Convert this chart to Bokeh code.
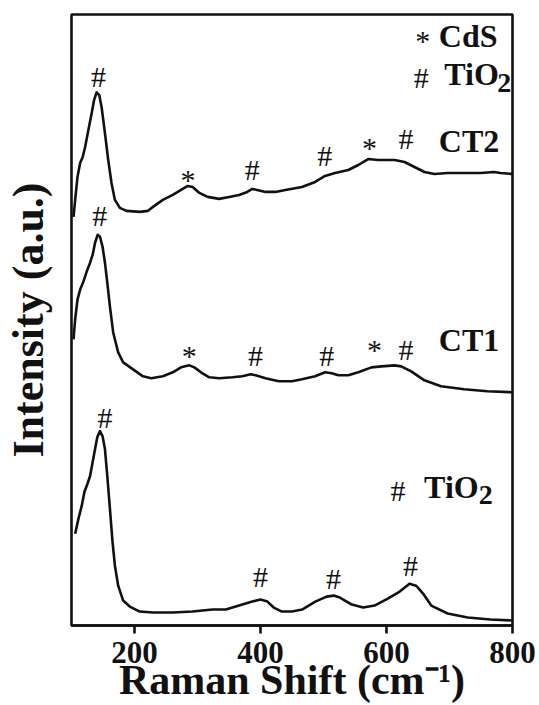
from bokeh.plotting import figure
from bokeh.models import Range1d, FixedTicker, Label, ColumnDataSource
from bokeh.core.properties import value
from bokeh.embed import file_html
from bokeh.resources import INLINE

# ---- data (Raman shift in cm^-1, intensity in a.u. with stacking offsets) ----
tio2_shift = [105.8, 111, 116.2, 120.5, 125.2, 129.5, 133.6, 137.4, 141, 145.2, 149.3, 153.1,
              156.8, 161, 165.1, 168.9, 174.1, 182, 192.5, 208.3, 229, 261, 292, 324, 345,
              366, 387, 400, 411, 421, 434, 450, 466, 487, 505, 516, 526, 545, 563, 581,
              602, 621, 636.5, 647, 658, 671, 697, 729, 765, 800]
tio2_int = [92, 107, 120, 134, 142, 150, 164, 177, 189, 195, 190, 177,
            150, 117, 84, 60, 40, 25, 19, 14, 13, 13, 14, 16, 16,
            20, 24, 26, 24, 18, 14, 14, 16, 24, 29, 30, 28, 21, 18, 20,
            27, 34, 42, 40, 32, 20, 12, 8, 6, 5]

ct1_shift = [103.2, 105.8, 109.5, 113.7, 118.9, 124.1, 129.5, 133.6, 137.4, 141.5, 145.2,
             149.3, 153.1, 156.8, 161, 166.2, 174.1, 182, 197.7, 213.5, 226.6, 245, 260.8,
             273.9, 287.1, 295, 305.4, 318.7, 334.4, 355.4, 371.2, 384.3, 392.2, 407.9,
             429, 450, 465.8, 486.7, 502.5, 513, 523.6, 539.4, 555.2, 576.1, 591.9, 612.9,
             623.4, 639.2, 660.2, 686.5, 723.2, 760.1, 799.5]
ct1_int = [287, 307, 327, 337, 345, 355, 364, 372, 384, 392, 390,
           380, 364, 344, 320, 294, 274, 264, 257, 250, 248, 250, 254,
           259, 261, 259, 254, 249, 248, 249, 250, 252, 251, 248,
           245, 245, 247, 250, 254, 253, 251, 251, 254, 259, 260, 261,
           260, 255, 246, 240, 237, 235, 234]

ct2_shift = [103.2, 105.8, 109.5, 113.7, 117.8, 121.6, 126.8, 132, 135.8, 139.9, 144.1,
             147.8, 153.1, 158.3, 163.5, 168.9, 176.8, 187.2, 208.3, 221.4, 229.3, 245,
             260.8, 273.9, 284.5, 292.3, 303, 316, 334.4, 350.2, 366, 379, 386.9, 394.8,
             407.9, 423.7, 439.5, 465.8, 486.7, 502.5, 518.3, 539.4, 555.2, 571, 586.7,
             612.9, 628.7, 644.4, 660.2, 676, 697, 728.6, 749.5, 770.5, 781, 799.5]
ct2_int = [410, 427, 450, 464, 470, 480, 497, 514, 527, 535, 532,
           520, 494, 467, 444, 427, 419, 416, 415, 416, 420, 427,
           432, 437, 441, 440, 434, 430, 428, 430, 432, 435, 438, 437,
           435, 435, 437, 440, 445, 451, 454, 457, 462, 468, 467,
           467, 465, 460, 455, 453, 454, 454, 454, 455, 454, 453]

x_ticks = [200, 400, 600, 800]

# peak marks: position (shift), level (a.u., centre of the mark), symbol
tio2_mark_x = [153, 400, 516, 638]
tio2_mark_y = [208, 48, 46, 59]
tio2_mark_s = ["#", "#", "#", "#"]
ct1_mark_x = [145, 287, 392, 505, 581, 631]
ct1_mark_y = [410, 274, 270, 270, 280, 276]
ct1_mark_s = ["#", "*", "#", "#", "*", "#"]
ct2_mark_x = [143, 285, 387, 502, 573, 631]
ct2_mark_y = [550, 450, 456, 470, 482, 487]
ct2_mark_s = ["#", "*", "#", "#", "*", "#"]

# ---- styling ----
SERIF = "Liberation Serif"
INK = "#111111"
LW = 2.6
sym_drop = {"#": 10, "*": 14}   # centre-to-baseline distance of the glyph (px)


def fix(size):
    # baseline correction measured on the rendered svg text
    return 0.3375 * size + 1


p = figure(width=539, height=705, output_backend="svg", toolbar_location=None,
           x_range=Range1d(100, 800), y_range=Range1d(0, 613),
           min_border_left=68, min_border_right=27, min_border_top=14,
           min_border_bottom=78)
p.background_fill_color = "white"
p.border_fill_color = "white"
p.outline_line_color = INK
p.outline_line_width = LW
p.grid.visible = False

ax = p.xaxis[0]
ax.ticker = FixedTicker(ticks=x_ticks)
ax.axis_line_width = LW
ax.axis_line_color = INK
ax.major_tick_in = 0
ax.major_tick_out = 8
ax.major_tick_line_width = LW
ax.major_tick_line_color = INK
ax.minor_tick_line_color = None
ax.major_label_text_font = SERIF
ax.major_label_text_font_style = "bold"
ax.major_label_text_font_size = "31px"
ax.major_label_text_color = INK
ax.major_label_standoff = 8
ax.axis_label = "Raman Shift (cm\u207b\u00b9)"
ax.axis_label_text_font = SERIF
ax.axis_label_text_font_style = "bold"
ax.axis_label_text_font_size = "42px"
ax.axis_label_text_color = INK
ax.axis_label_standoff = -9

ay = p.yaxis[0]
ay.ticker = FixedTicker(ticks=[])
ay.axis_line_color = None
ay.major_tick_line_color = None
ay.minor_tick_line_color = None
ay.major_tick_out = 0
ay.major_tick_in = 0
ay.major_label_standoff = 0
ay.axis_label = "Intensity (a.u.)"
ay.axis_label_text_font = SERIF
ay.axis_label_text_font_style = "bold"
ay.axis_label_text_font_size = "44px"
ay.axis_label_text_color = INK
ay.axis_label_standoff = 19

for xs, ys in [(tio2_shift, tio2_int), (ct1_shift, ct1_int), (ct2_shift, ct2_int)]:
    p.line(xs, ys, line_color=INK, line_width=LW, line_join="round")

mx = tio2_mark_x + ct1_mark_x + ct2_mark_x
my = tio2_mark_y + ct1_mark_y + ct2_mark_y
ms = tio2_mark_s + ct1_mark_s + ct2_mark_s
src = ColumnDataSource(dict(x=mx, y=[v - sym_drop[s] + fix(30) for v, s in zip(my, ms)], t=ms))
p.text(x="x", y="y", text="t", source=src, text_align="center",
       text_baseline="alphabetic", text_font=value(SERIF),
       text_font_size=value("30px"), text_color=INK)


def lab(x, y, text, size, bold=True, align="left"):
    p.add_layout(Label(x=x, y=y + fix(size), text=text, text_font=SERIF,
                       text_font_style="bold" if bold else "normal",
                       text_font_size=f"{size}px", text_color=INK, text_align=align,
                       text_baseline="alphabetic"))


# legend block (top right)
lab(657.5, 590 - sym_drop["*"], "*", 30, bold=False, align="center")
lab(683, 580, "CdS", 32)
lab(655, 549 - sym_drop["#"], "#", 30, bold=False, align="center")
lab(691.7, 542, "TiO", 32)
lab(775.6, 534, "2", 28)

# sample names
lab(683, 474, "CT2", 32)
lab(683, 275, "CT1", 32)
lab(618.2, 134 - sym_drop["#"], "#", 30, bold=False, align="center")
lab(659.7, 127, "TiO", 32)
lab(746.4, 120, "2", 28)

open("out.html", "w").write(file_html(p, INLINE))
